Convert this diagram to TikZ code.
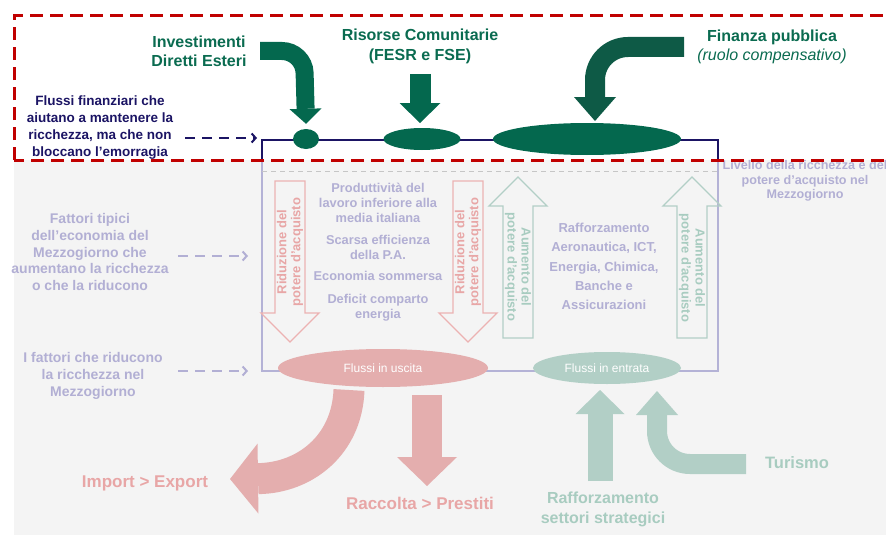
\documentclass[tikz,border=0pt]{standalone}
\usepackage{fontspec}
\setmainfont{Liberation Sans}
\usetikzlibrary{arrows.meta,shapes.geometric}
\definecolor{HeadGreen}{RGB}{10,107,80}
\definecolor{TopGreen}{RGB}{4,104,78}
\definecolor{DeepGreen}{RGB}{14,90,70}
\definecolor{NavyBlue}{RGB}{27,20,100}
\definecolor{SoftLav}{RGB}{178,175,212}
\definecolor{LavLine}{RGB}{180,178,214}
\definecolor{PinkFill}{RGB}{228,174,174}
\definecolor{PinkText}{RGB}{232,166,166}
\definecolor{PinkLine}{RGB}{236,178,178}
\definecolor{MintFill}{RGB}{178,207,198}
\definecolor{MintText}{RGB}{168,204,192}
\definecolor{PaleGray}{RGB}{244,244,244}
\definecolor{AlertRed}{RGB}{192,0,0}

\begin{document}
\begin{tikzpicture}[x=1pt,y=-1pt,
    every node/.style={inner sep=0pt},
    greenhead/.style={font=\bfseries\fontsize{16}{19}\selectfont, text=HeadGreen, align=center},
    sidenote/.style={font=\bfseries\fontsize{14}{16.8}\selectfont, text=SoftLav, align=center},
    factor/.style={font=\bfseries\fontsize{12.8}{15}\selectfont, text=SoftLav, align=center},
    vlabel/.style={font=\bfseries\fontsize{13}{14}\selectfont, align=center},
    flow/.style={ellipse, fill=#1, font=\fontsize{12}{14}\selectfont, text=white},
    fat/.style n args={3}{line width=#1, -{Triangle[width=#2, length=#3, line width=0pt]}},
    hint/.style={line width=2.5pt, dash pattern=on 10pt off 7pt,
        -{Straight Barb[length=4pt, width=9pt, line width=2pt]}}
]
    \useasboundingbox (0,0) rectangle (886,535);
    % faded lower part
    \fill[PaleGray] (14,160) rectangle (886,535);

    % level of wealth (frame)
    \coordinate (tl) at (262,140);
    \coordinate (tr) at (718,140);
    \coordinate (bl) at (262,371);
    \coordinate (br) at (718,371);
    \draw[NavyBlue, line width=2pt] (262,160) -- (tl) -- (tr) -- (718,160);
    \draw[LavLine, line width=2pt] (262,160) -- (bl) -- (br) -- (718,160);
    \draw[gray!45, dash pattern=on 5pt off 4pt] (262,171) -- (718,171);

    % inflows at the top
    \node[ellipse, fill=TopGreen, minimum width=26pt, minimum height=20pt] (ide) at (306,139) {};
    \node[ellipse, fill=TopGreen, minimum width=77pt, minimum height=22pt] (ue) at (422,139) {};
    \node[ellipse, fill=TopGreen, minimum width=188pt, minimum height=32pt] (pub) at (587,139) {};

    % flows at the bottom
    \node[flow=PinkFill, minimum width=210pt, minimum height=38pt] (out) at (383,368) {Flussi in uscita};
    \node[flow=MintFill, minimum width=148pt, minimum height=32pt] (in) at (607,368) {Flussi in entrata};

    % green block arrows
    \coordinate (ide0) at (260,51);
    \coordinate (ue0) at (420,74);
    \coordinate (pub0) at (684,47);
    \draw[fat={18pt}{32pt}{15pt}, TopGreen, rounded corners=22pt]
        (ide0) -- (304,51) -- ([yshift=5pt]ide.north);
    \draw[fat={21pt}{41pt}{20pt}, TopGreen] (ue0) -- (420,123);
    \draw[fat={20pt}{42pt}{24pt}, DeepGreen, rounded corners=33pt]
        (pub0) -- (595,47) -- (595,121);

    % outflows
    \coordinate (imp0) at (349,390);
    \coordinate (rac0) at (427,395);
    \draw[fat={31pt}{70pt}{28pt}, PinkFill]
        (imp0) .. controls (347,445) and (305,478) .. (230,479);
    \draw[fat={30pt}{60pt}{29pt}, PinkFill] (rac0) -- (427,486);

    % inflows at the bottom
    \coordinate (raf0) at (600,481);
    \coordinate (tur0) at (746,464);
    \draw[fat={25pt}{49pt}{24pt}, MintFill] (raf0) -- (600,390);
    \draw[fat={20pt}{42pt}{24pt}, MintFill, rounded corners=33pt]
        (tur0) -- (657,464) -- (657,391);

    % hollow arrows inside the frame
    \foreach \c in {290,468}{
        \draw[PinkLine, line width=1.3pt] (\c-15,181) -- (\c+15,181) -- (\c+15,313)
            -- (\c+29,313) -- (\c,342) -- (\c-29,313) -- (\c-15,313) -- cycle;
    }
    \foreach \c in {518,692}{
        \draw[MintFill, line width=1.3pt] (\c-15,338) -- (\c+15,338) -- (\c+15,206)
            -- (\c+29,206) -- (\c,177) -- (\c-29,206) -- (\c-15,206) -- cycle;
    }
    \node[vlabel, text=PinkText, rotate=90] (rid1) at (290,252) {Riduzione del\\potere d’acquisto};
    \node[vlabel, text=PinkText, rotate=90] (rid2) at (468,252) {Riduzione del\\potere d’acquisto};
    \node[vlabel, text=MintText, rotate=-90] (aum1) at (518,267) {Aumento del\\potere d’acquisto};
    \node[vlabel, text=MintText, rotate=-90] (aum2) at (692,268) {Aumento del\\potere d’acquisto};

    % headings
    \node[greenhead] (ideT) at (199,51) {Investimenti\\Diretti Esteri};
    \node[greenhead, font=\bfseries\fontsize{16}{20}\selectfont] (ueT) at (420,46) {Risorse Comunitarie\\(FESR e FSE)};
    \node[greenhead, font=\fontsize{16}{19}\selectfont] (pubT) at (772,47)
        {\bfseries Finanza pubblica\\\itshape (ruolo compensativo)};

    % left notes
    \node[align=center, text=NavyBlue, font=\bfseries\fontsize{13.5}{17}\selectfont] (fin) at (100,128)
        {Flussi finanziari che\\aiutano a mantenere la\\ricchezza, ma che non\\bloccano l’emorragia};
    \node[sidenote] (tip) at (90,252)
        {Fattori tipici\\dell’economia del\\Mezzogiorno che\\aumentano la ricchezza\\o che la riducono};
    \node[sidenote] (rid) at (93,376) {I fattori che riducono\\la ricchezza nel\\Mezzogiorno};
    \coordinate (h1a) at (185,138);
    \coordinate (h1b) at (257,138);
    \coordinate (h2a) at (178,256);
    \coordinate (h2b) at (248,256);
    \coordinate (h3a) at (178,371);
    \coordinate (h3b) at (248,371);
    \draw[hint, NavyBlue] (h1a) -- (h1b);
    \draw[hint, SoftLav] (h2a) -- (h2b);
    \draw[hint, SoftLav] (h3a) -- (h3b);

    % factors inside the frame
    \node[factor] (prod) at (378,203) {Produttività del\\lavoro inferiore alla\\media italiana};
    \node[factor] (pa) at (378,247.5) {Scarsa efficienza\\della P.A.};
    \node[factor] (somm) at (378,276) {Economia sommersa};
    \node[factor] (ener) at (378,307.5) {Deficit comparto\\energia};
    \node[factor, font=\bfseries\fontsize{13}{19.2}\selectfont] (sett) at (604,266.5)
        {Rafforzamento\\Aeronautica, ICT,\\Energia, Chimica,\\Banche e\\Assicurazioni};
    \node[factor, font=\bfseries\fontsize{12.6}{14.5}\selectfont] (liv) at (805,181)
        {Livello della ricchezza e del\\potere d’acquisto nel\\Mezzogiorno};

    % bottom labels
    \node[font=\bfseries\fontsize{17}{20}\selectfont, text=PinkText] (impT) at (145,483) {Import > Export};
    \node[font=\bfseries\fontsize{17}{20}\selectfont, text=PinkText] (racT) at (420,503) {Raccolta > Prestiti};
    \node[greenhead, text=MintText, font=\bfseries\fontsize{16}{20}\selectfont] (rafT) at (603,509)
        {Rafforzamento\\settori strategici};
    \node[font=\bfseries\fontsize{16.5}{20}\selectfont, text=MintText] (turT) at (797,463) {Turismo};

    % area of the financial flows
    \draw[AlertRed, line width=3pt, dash pattern=on 13pt off 7pt] (14,160) rectangle (905,16);
\end{tikzpicture}
\end{document}
